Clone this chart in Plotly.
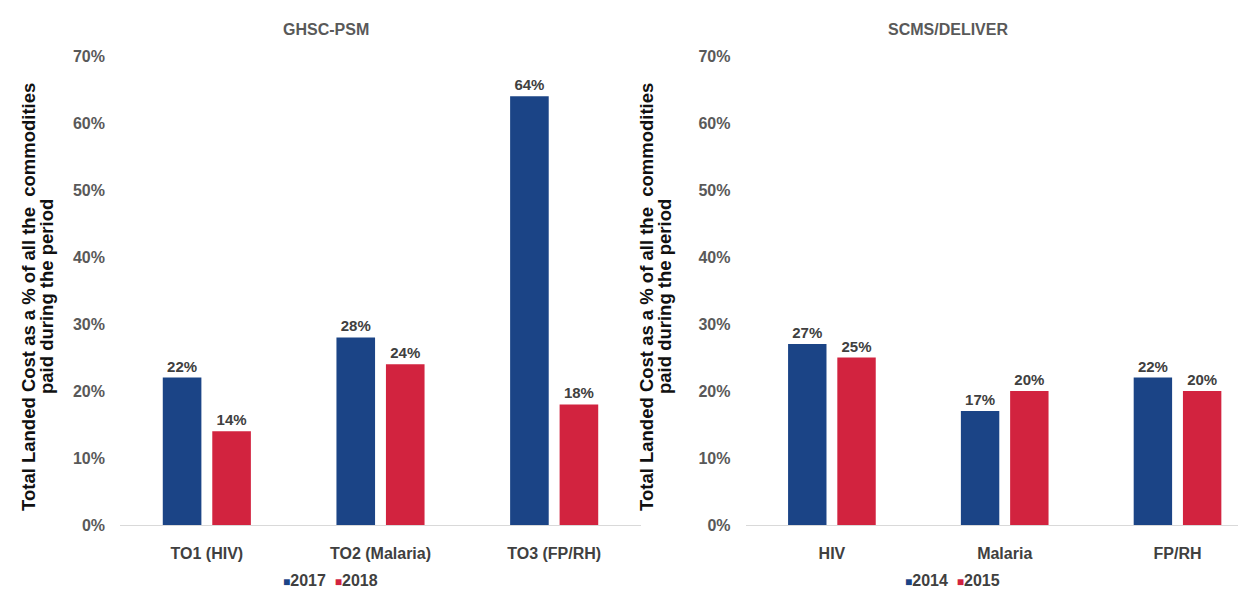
import plotly.graph_objects as go

# GHSC-PSM panel
ghsc_categories = ["TO1 (HIV)", "TO2 (Malaria)", "TO3 (FP/RH)"]
ghsc_years = ["2017", "2018"]
ghsc_2017 = [22, 28, 64]
ghsc_2018 = [14, 24, 18]

# SCMS/DELIVER panel
scms_categories = ["HIV", "Malaria", "FP/RH"]
scms_years = ["2014", "2015"]
scms_2014 = [27, 17, 22]
scms_2015 = [25, 20, 20]

y_ticks = [0, 10, 20, 30, 40, 50, 60, 70]
y_tick_labels = [f"{v}%" for v in y_ticks]

BLUE = "#1b4486"
RED = "#d2233f"
W, H = 1238, 591
TOP, BOTTOM = 56, 525  # pixel rows of 70% and 0%

FONT = "Liberation Sans Narrow, Arial Narrow, Liberation Sans, Arial, sans-serif"
BOLD = "Liberation Sans, Arial, sans-serif"


def bar(name, cats, vals, color, xaxis, yaxis):
    return go.Bar(
        name=name, x=cats, y=vals, marker_color=color, marker_line_width=0,
        text=[f"{v}%" for v in vals], textposition="outside",
        textfont=dict(family=FONT, size=15, color="#404040", weight="bold"),
        cliponaxis=False, xaxis=xaxis, yaxis=yaxis, showlegend=False,
    )


fig = go.Figure()
fig.add_trace(bar(ghsc_years[0], ghsc_categories, ghsc_2017, BLUE, "x", "y"))
fig.add_trace(bar(ghsc_years[1], ghsc_categories, ghsc_2018, RED, "x", "y"))
fig.add_trace(bar(scms_years[0], scms_categories, scms_2014, BLUE, "x2", "y2"))
fig.add_trace(bar(scms_years[1], scms_categories, scms_2015, RED, "x2", "y2"))


def px_y(py):
    return (BOTTOM - py) / (BOTTOM - TOP)


xaxis_common = dict(
    type="category", showline=True, linecolor="#d9d9d9", linewidth=1,
    showgrid=False, zeroline=False, ticks="", ticklabelstandoff=14,
    tickfont=dict(family=FONT, size=16, color="#404040", weight="bold"),
)
yaxis_common = dict(
    range=[0, 70], tickvals=y_ticks, ticktext=y_tick_labels,
    showgrid=False, zeroline=False, showline=False, ticks="",
    ticklabelstandoff=14,
    tickfont=dict(family=FONT, size=16, color="#595959", weight="bold"),
)

fig.update_layout(
    width=W, height=H,
    margin=dict(l=0, r=0, t=TOP, b=H - BOTTOM, pad=0),
    paper_bgcolor="white", plot_bgcolor="white",
    barmode="group", bargap=0.43, bargroupgap=0.22,
    xaxis=dict(domain=[120 / W, 641 / W], range=[-0.5, 2.5], anchor="y", **xaxis_common),
    yaxis=dict(domain=[0, 1], anchor="x", **yaxis_common),
    xaxis2=dict(domain=[745.5 / W, 1.0], range=[-0.5, 2.35], anchor="y2", **xaxis_common),
    yaxis2=dict(domain=[0, 1], anchor="x2", **yaxis_common),
    showlegend=False,
)

# Panel titles
for text, cx in [("GHSC-PSM", 326), ("SCMS/DELIVER", 948)]:
    fig.add_annotation(
        text=text, xref="paper", yref="paper", x=cx / W, y=px_y(30),
        xanchor="center", yanchor="middle", showarrow=False,
        font=dict(family=FONT, size=16, color="#595959", weight="bold"),
    )

# Y-axis title, two lines, repeated for each panel
y_title_lines = ["Total Landed Cost as a % of all the  commodities", "paid during the period"]
for base_x in [28, 646]:
    for i, line in enumerate(y_title_lines):
        fig.add_annotation(
            text=line, xref="paper", yref="paper", x=(base_x + 18 * i) / W, y=px_y(297),
            xanchor="center", yanchor="middle", showarrow=False, textangle=-90,
            font=dict(family=BOLD, size=18.5, color="#111111", weight="bold"),
        )

# Compact legends under each panel
def legend_text(years):
    sq = "<span style='color:{c};font-size:12px'>■</span>"
    return (sq.format(c=BLUE) + years[0] + "&nbsp;&nbsp;" + sq.format(c=RED) + years[1])


for years, cx in [(ghsc_years, 330), (scms_years, 952)]:
    fig.add_annotation(
        text=legend_text(years), xref="paper", yref="paper", x=cx / W, y=px_y(580),
        xanchor="center", yanchor="middle", showarrow=False,
        font=dict(family=FONT, size=16, color="#404040", weight="bold"),
    )

fig.write_html("out.html")
